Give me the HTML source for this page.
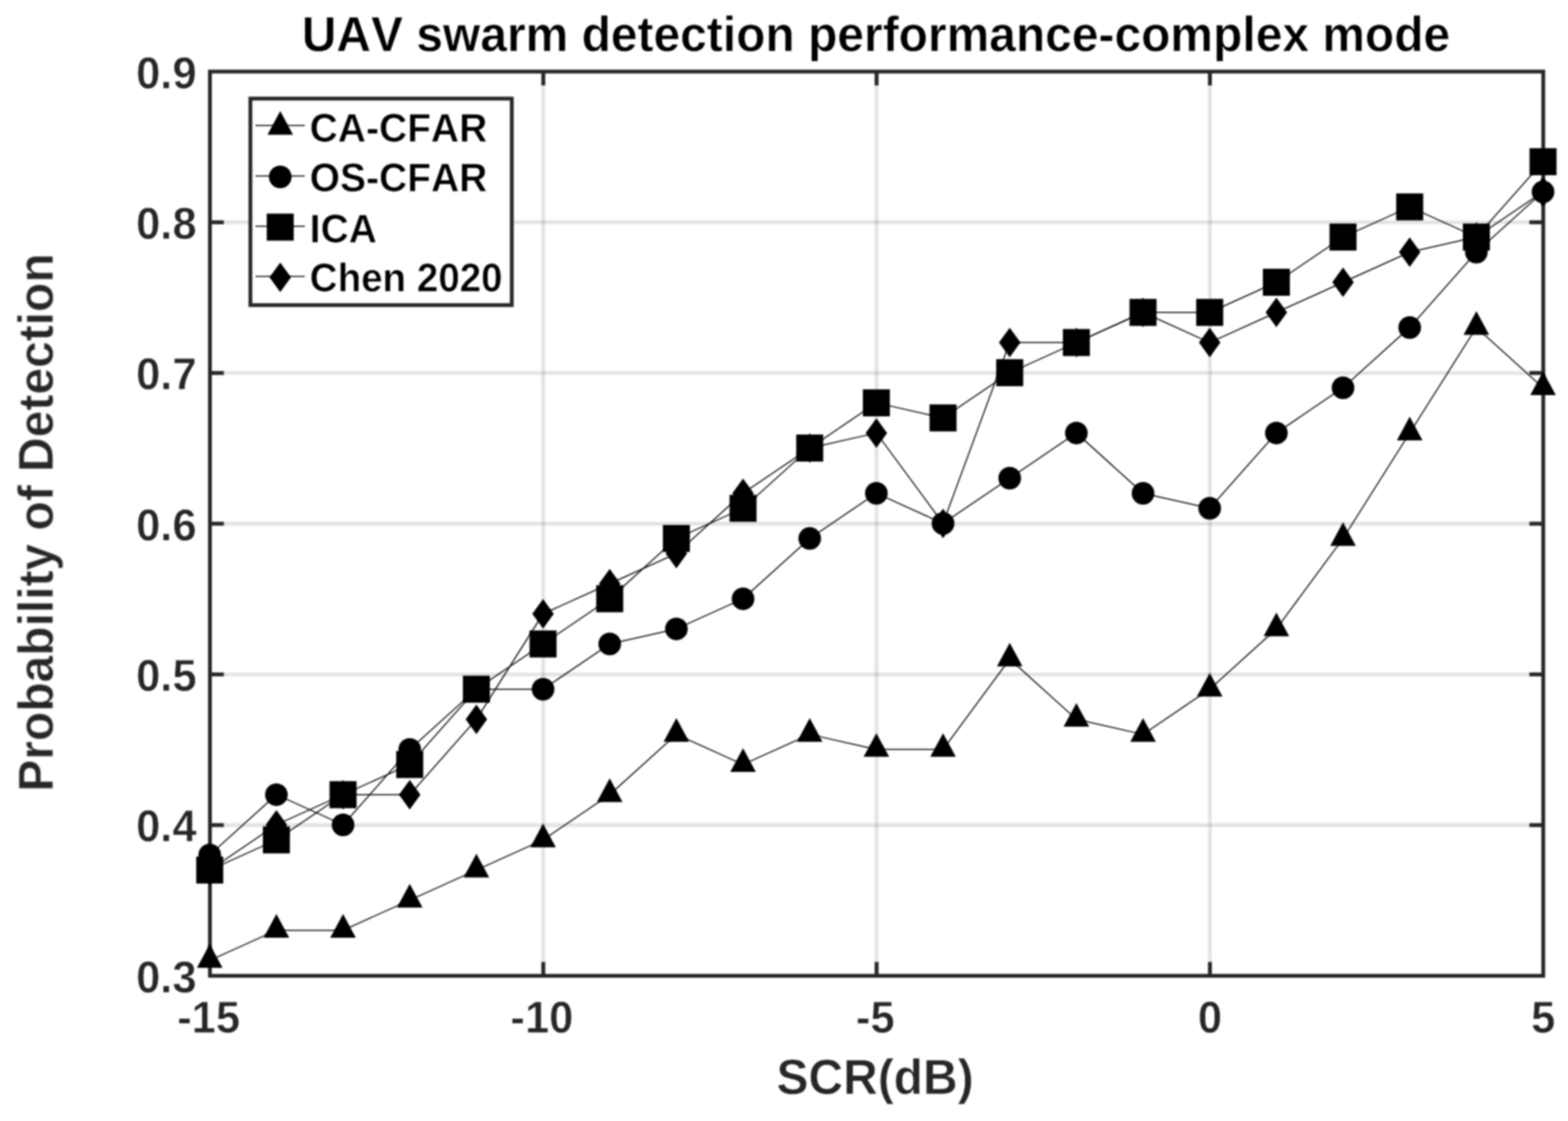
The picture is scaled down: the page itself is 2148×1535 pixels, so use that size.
<!DOCTYPE html>
<html lang="en">
<head>
<meta charset="utf-8">
<title>UAV swarm detection performance-complex mode</title>
<style>
html,body{margin:0;padding:0;background:#fff;}
body{width:2148px;height:1535px;overflow:hidden;}
svg{display:block;}
text{font-family:"Liberation Sans",sans-serif;font-weight:bold;font-kerning:none;text-rendering:geometricPrecision;stroke:#fff;stroke-width:0.7px;stroke-linejoin:round;}
.tk{font-size:59.6px;fill:#262626;}
.lg{font-size:53.4px;fill:#000;}
.tt{font-size:65.7px;fill:#000;}
.lb{font-size:65.7px;fill:#262626;}
</style>
</head>
<body>
<svg width="2148" height="1535" viewBox="0 0 2148 1535">
<rect width="2148" height="1535" fill="#fff"/>
<defs><filter id="fg" x="-3%" y="-3%" width="106%" height="106%" color-interpolation-filters="sRGB"><feGaussianBlur stdDeviation="1.4"/></filter><filter id="fa" x="-3%" y="-3%" width="106%" height="106%" color-interpolation-filters="sRGB"><feGaussianBlur stdDeviation="1.15"/></filter><filter id="fl" x="-3%" y="-3%" width="106%" height="106%" color-interpolation-filters="sRGB"><feGaussianBlur stdDeviation="0.85"/></filter><filter id="fm" x="-3%" y="-3%" width="106%" height="106%" color-interpolation-filters="sRGB"><feGaussianBlur stdDeviation="0.85"/></filter><filter id="ft" x="-3%" y="-3%" width="106%" height="106%" color-interpolation-filters="sRGB"><feGaussianBlur stdDeviation="0.85"/></filter></defs>
<g stroke="#262626" stroke-opacity="0.14" stroke-width="4.6" fill="none" filter="url(#fg)">
<line x1="744.23" y1="98" x2="744.23" y2="1336.2"/>
<line x1="1200.85" y1="98" x2="1200.85" y2="1336.2"/>
<line x1="1657.47" y1="98" x2="1657.47" y2="1336.2"/>
<line x1="287.6" y1="1129.83" x2="2114.1" y2="1129.83"/>
<line x1="287.6" y1="923.47" x2="2114.1" y2="923.47"/>
<line x1="287.6" y1="717.1" x2="2114.1" y2="717.1"/>
<line x1="287.6" y1="510.73" x2="2114.1" y2="510.73"/>
<line x1="287.6" y1="304.37" x2="2114.1" y2="304.37"/>
</g>
<g stroke="#262626" stroke-width="5.2" fill="none" filter="url(#fa)">
<rect x="287.6" y="98" width="1826.5" height="1238.2"/>
<line x1="744.23" y1="1336.2" x2="744.23" y2="1317.2"/>
<line x1="744.23" y1="98" x2="744.23" y2="117"/>
<line x1="1200.85" y1="1336.2" x2="1200.85" y2="1317.2"/>
<line x1="1200.85" y1="98" x2="1200.85" y2="117"/>
<line x1="1657.47" y1="1336.2" x2="1657.47" y2="1317.2"/>
<line x1="1657.47" y1="98" x2="1657.47" y2="117"/>
<line x1="287.6" y1="1129.83" x2="306.6" y2="1129.83"/>
<line x1="2114.1" y1="1129.83" x2="2095.1" y2="1129.83"/>
<line x1="287.6" y1="923.47" x2="306.6" y2="923.47"/>
<line x1="2114.1" y1="923.47" x2="2095.1" y2="923.47"/>
<line x1="287.6" y1="717.1" x2="306.6" y2="717.1"/>
<line x1="2114.1" y1="717.1" x2="2095.1" y2="717.1"/>
<line x1="287.6" y1="510.73" x2="306.6" y2="510.73"/>
<line x1="2114.1" y1="510.73" x2="2095.1" y2="510.73"/>
<line x1="287.6" y1="304.37" x2="306.6" y2="304.37"/>
<line x1="2114.1" y1="304.37" x2="2095.1" y2="304.37"/>
</g>
<g transform="translate(-0.3 -0.4)" fill="none" stroke="#000" stroke-width="1.5" stroke-linejoin="round" filter="url(#fl)">
<polyline points="287.6,1315.56 378.93,1274.29 470.25,1274.29 561.58,1233.02 652.9,1191.74 744.23,1150.47 835.55,1088.56 926.88,1006.01 1018.2,1047.29 1109.53,1006.01 1200.85,1026.65 1292.18,1026.65 1383.5,902.83 1474.83,985.38 1566.15,1006.01 1657.47,944.1 1748.8,861.56 1840.12,737.74 1931.45,593.28 2022.78,448.82 2114.1,531.37"/>
<polyline points="287.6,1171.11 378.93,1088.56 470.25,1129.83 561.58,1026.65 652.9,944.1 744.23,944.1 835.55,882.19 926.88,861.56 1018.2,820.28 1109.53,737.74 1200.85,675.83 1292.18,717.1 1383.5,655.19 1474.83,593.28 1566.15,675.83 1657.47,696.46 1748.8,593.28 1840.12,531.37 1931.45,448.82 2022.78,345.64 2114.1,263.09"/>
<polyline points="287.6,1191.74 378.93,1150.47 470.25,1088.56 561.58,1047.29 652.9,944.1 744.23,882.19 835.55,820.28 926.88,737.74 1018.2,696.46 1109.53,613.92 1200.85,552.01 1292.18,572.64 1383.5,510.73 1474.83,469.46 1566.15,428.19 1657.47,428.19 1748.8,386.91 1840.12,325 1931.45,283.73 2022.78,325 2114.1,221.82"/>
<polyline points="287.6,1191.74 378.93,1129.83 470.25,1088.56 561.58,1088.56 652.9,985.38 744.23,840.92 835.55,799.65 926.88,758.37 1018.2,675.83 1109.53,613.92 1200.85,593.28 1292.18,717.1 1383.5,469.46 1474.83,469.46 1566.15,428.19 1657.47,469.46 1748.8,428.19 1840.12,386.91 1931.45,345.64 2022.78,325 2114.1,263.09"/>
</g>
<g transform="translate(-0.3 -0.4)" fill="#000" filter="url(#fm)">
<g>
<polygon points="287.6,1293.26 305.1,1325.66 270.1,1325.66"/>
<polygon points="378.93,1251.99 396.43,1284.39 361.43,1284.39"/>
<polygon points="470.25,1251.99 487.75,1284.39 452.75,1284.39"/>
<polygon points="561.58,1210.72 579.08,1243.12 544.08,1243.12"/>
<polygon points="652.9,1169.44 670.4,1201.84 635.4,1201.84"/>
<polygon points="744.23,1128.17 761.73,1160.57 726.73,1160.57"/>
<polygon points="835.55,1066.26 853.05,1098.66 818.05,1098.66"/>
<polygon points="926.88,983.71 944.38,1016.11 909.38,1016.11"/>
<polygon points="1018.2,1024.99 1035.7,1057.39 1000.7,1057.39"/>
<polygon points="1109.53,983.71 1127.03,1016.11 1092.03,1016.11"/>
<polygon points="1200.85,1004.35 1218.35,1036.75 1183.35,1036.75"/>
<polygon points="1292.18,1004.35 1309.68,1036.75 1274.68,1036.75"/>
<polygon points="1383.5,880.53 1401,912.93 1366,912.93"/>
<polygon points="1474.83,963.08 1492.33,995.48 1457.33,995.48"/>
<polygon points="1566.15,983.71 1583.65,1016.11 1548.65,1016.11"/>
<polygon points="1657.47,921.8 1674.97,954.2 1639.97,954.2"/>
<polygon points="1748.8,839.26 1766.3,871.66 1731.3,871.66"/>
<polygon points="1840.12,715.44 1857.62,747.84 1822.62,747.84"/>
<polygon points="1931.45,570.98 1948.95,603.38 1913.95,603.38"/>
<polygon points="2022.78,426.52 2040.28,458.92 2005.28,458.92"/>
<polygon points="2114.1,509.07 2131.6,541.47 2096.6,541.47"/>
</g>
<g>
<circle cx="287.6" cy="1171.11" r="15.5"/>
<circle cx="378.93" cy="1088.56" r="15.5"/>
<circle cx="470.25" cy="1129.83" r="15.5"/>
<circle cx="561.58" cy="1026.65" r="15.5"/>
<circle cx="652.9" cy="944.1" r="15.5"/>
<circle cx="744.23" cy="944.1" r="15.5"/>
<circle cx="835.55" cy="882.19" r="15.5"/>
<circle cx="926.88" cy="861.56" r="15.5"/>
<circle cx="1018.2" cy="820.28" r="15.5"/>
<circle cx="1109.53" cy="737.74" r="15.5"/>
<circle cx="1200.85" cy="675.83" r="15.5"/>
<circle cx="1292.18" cy="717.1" r="15.5"/>
<circle cx="1383.5" cy="655.19" r="15.5"/>
<circle cx="1474.83" cy="593.28" r="15.5"/>
<circle cx="1566.15" cy="675.83" r="15.5"/>
<circle cx="1657.47" cy="696.46" r="15.5"/>
<circle cx="1748.8" cy="593.28" r="15.5"/>
<circle cx="1840.12" cy="531.37" r="15.5"/>
<circle cx="1931.45" cy="448.82" r="15.5"/>
<circle cx="2022.78" cy="345.64" r="15.5"/>
<circle cx="2114.1" cy="263.09" r="15.5"/>
</g>
<g>
<rect x="269.1" y="1173.24" width="37" height="37"/>
<rect x="360.43" y="1131.97" width="37" height="37"/>
<rect x="451.75" y="1070.06" width="37" height="37"/>
<rect x="543.08" y="1028.79" width="37" height="37"/>
<rect x="634.4" y="925.6" width="37" height="37"/>
<rect x="725.73" y="863.69" width="37" height="37"/>
<rect x="817.05" y="801.78" width="37" height="37"/>
<rect x="908.38" y="719.24" width="37" height="37"/>
<rect x="999.7" y="677.96" width="37" height="37"/>
<rect x="1091.03" y="595.42" width="37" height="37"/>
<rect x="1182.35" y="533.51" width="37" height="37"/>
<rect x="1273.68" y="554.14" width="37" height="37"/>
<rect x="1365" y="492.23" width="37" height="37"/>
<rect x="1456.33" y="450.96" width="37" height="37"/>
<rect x="1547.65" y="409.69" width="37" height="37"/>
<rect x="1638.97" y="409.69" width="37" height="37"/>
<rect x="1730.3" y="368.41" width="37" height="37"/>
<rect x="1821.62" y="306.5" width="37" height="37"/>
<rect x="1912.95" y="265.23" width="37" height="37"/>
<rect x="2004.28" y="306.5" width="37" height="37"/>
<rect x="2095.6" y="203.32" width="37" height="37"/>
</g>
<g>
<polygon points="287.6,1171.49 302.3,1191.74 287.6,1211.99 272.9,1191.74"/>
<polygon points="378.93,1109.58 393.62,1129.83 378.93,1150.08 364.23,1129.83"/>
<polygon points="470.25,1068.31 484.95,1088.56 470.25,1108.81 455.55,1088.56"/>
<polygon points="561.58,1068.31 576.28,1088.56 561.58,1108.81 546.88,1088.56"/>
<polygon points="652.9,965.13 667.6,985.38 652.9,1005.63 638.2,985.38"/>
<polygon points="744.23,820.67 758.93,840.92 744.23,861.17 729.52,840.92"/>
<polygon points="835.55,779.4 850.25,799.65 835.55,819.9 820.85,799.65"/>
<polygon points="926.88,738.12 941.58,758.37 926.88,778.62 912.17,758.37"/>
<polygon points="1018.2,655.58 1032.9,675.83 1018.2,696.08 1003.5,675.83"/>
<polygon points="1109.53,593.67 1124.23,613.92 1109.53,634.17 1094.83,613.92"/>
<polygon points="1200.85,573.03 1215.55,593.28 1200.85,613.53 1186.15,593.28"/>
<polygon points="1292.18,696.85 1306.88,717.1 1292.18,737.35 1277.48,717.1"/>
<polygon points="1383.5,449.21 1398.2,469.46 1383.5,489.71 1368.8,469.46"/>
<polygon points="1474.83,449.21 1489.53,469.46 1474.83,489.71 1460.13,469.46"/>
<polygon points="1566.15,407.94 1580.85,428.19 1566.15,448.44 1551.45,428.19"/>
<polygon points="1657.47,449.21 1672.17,469.46 1657.47,489.71 1642.77,469.46"/>
<polygon points="1748.8,407.94 1763.5,428.19 1748.8,448.44 1734.1,428.19"/>
<polygon points="1840.12,366.66 1854.83,386.91 1840.12,407.16 1825.42,386.91"/>
<polygon points="1931.45,325.39 1946.15,345.64 1931.45,365.89 1916.75,345.64"/>
<polygon points="2022.78,304.75 2037.48,325 2022.78,345.25 2008.08,325"/>
<polygon points="2114.1,242.84 2128.8,263.09 2114.1,283.34 2099.4,263.09"/>
</g>
</g>
<rect x="343" y="135" width="358.1" height="282.8" fill="#fff"/>
<rect x="343" y="135" width="358.1" height="282.8" fill="none" stroke="#262626" stroke-width="5.2" filter="url(#fa)"/>
<g stroke="#000" stroke-width="1.5" filter="url(#fl)">
<line x1="350" y1="171.7" x2="417.5" y2="171.7"/>
<line x1="350" y1="241" x2="417.5" y2="241"/>
<line x1="350" y1="309.8" x2="417.5" y2="309.8"/>
<line x1="350" y1="378.5" x2="417.5" y2="378.5"/>
</g>
<g fill="#000" filter="url(#fm)">
<polygon points="383.9,152 401.4,184.4 366.4,184.4"/>
<circle cx="383.9" cy="242.2" r="15.5"/>
<rect x="365.4" y="292.5" width="37" height="37"/>
<polygon points="383.9,359.45 398.6,379.7 383.9,399.95 369.2,379.7"/>
</g>
<g filter="url(#ft)">
<text class="lg" transform="translate(424.3 193.9) scale(1 1.03)">CA-CFAR</text>
<text class="lg" transform="translate(424.3 261.8) scale(1 1.03)">OS-CFAR</text>
<text class="lg" transform="translate(424.3 331.6) scale(1 1.03)">ICA</text>
<text class="lg" textLength="264.2" lengthAdjust="spacingAndGlyphs" transform="translate(424.3 399.2) scale(1 1.03)">Chen 2020</text>
<text class="tk" text-anchor="middle" transform="translate(285.8 1414.3) scale(1 1.03)">-15</text>
<text class="tk" text-anchor="middle" transform="translate(742.43 1414.3) scale(1 1.03)">-10</text>
<text class="tk" text-anchor="middle" transform="translate(1199.05 1414.3) scale(1 1.03)">-5</text>
<text class="tk" text-anchor="middle" transform="translate(1657.47 1414.3) scale(1 1.03)">0</text>
<text class="tk" text-anchor="middle" transform="translate(2114.1 1414.3) scale(1 1.03)">5</text>
<text class="tk" text-anchor="end" transform="translate(269.3 1358.8) scale(1 1.03)">0.3</text>
<text class="tk" text-anchor="end" transform="translate(269.3 1152.43) scale(1 1.03)">0.4</text>
<text class="tk" text-anchor="end" transform="translate(269.3 946.07) scale(1 1.03)">0.5</text>
<text class="tk" text-anchor="end" transform="translate(269.3 739.7) scale(1 1.03)">0.6</text>
<text class="tk" text-anchor="end" transform="translate(269.3 533.33) scale(1 1.03)">0.7</text>
<text class="tk" text-anchor="end" transform="translate(269.3 326.97) scale(1 1.03)">0.8</text>
<text class="tk" text-anchor="end" transform="translate(269.3 120.6) scale(1 1.03)">0.9</text>
<text class="tt" text-anchor="middle" transform="translate(1200 70.3) scale(1 1.03)">UAV swarm detection performance-complex mode</text>
<text class="lb" text-anchor="middle" transform="translate(1198.8 1498.2) scale(1 1.03)">SCR(dB)</text>
<text class="lb" text-anchor="middle" transform="translate(72.2 715.5) rotate(-90) scale(1 1.03)">Probability of Detection</text>
</g>
</svg>
</body>
</html>
